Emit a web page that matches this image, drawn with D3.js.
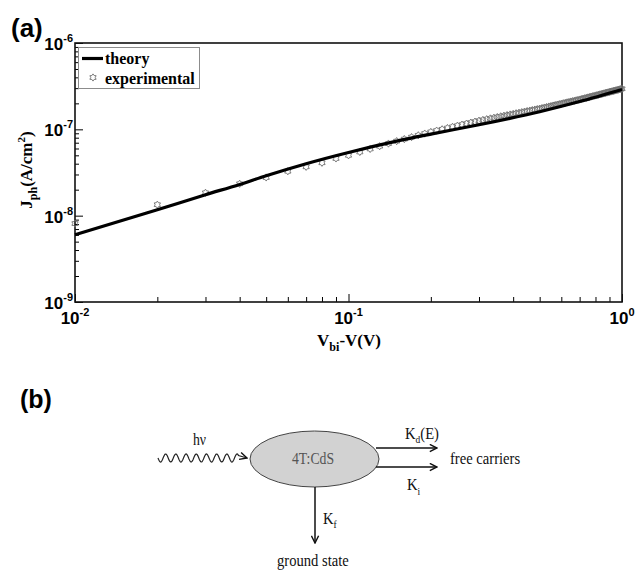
<!DOCTYPE html>
<html>
<head>
<meta charset="utf-8">
<script src="https://cdn.jsdelivr.net/npm/d3@7"></script>
<style>
  html, body { margin: 0; padding: 0; background: #fff; }
  svg { display: block; }
</style>
</head>
<body>
<svg id="fig" width="644" height="573"></svg>
<script>
// ---- photocurrent data ----
const expV = [
  0.01, 0.02, 0.03, 0.04, 0.05, 0.06, 0.07, 0.08, 0.09, 0.10,
  0.11, 0.12, 0.13, 0.14, 0.15, 0.16, 0.17, 0.18, 0.19, 0.20,
  0.21, 0.22, 0.23, 0.24, 0.25, 0.26, 0.27, 0.28, 0.29, 0.30,
  0.31, 0.32, 0.33, 0.34, 0.35, 0.36, 0.37, 0.38, 0.39, 0.40,
  0.41, 0.42, 0.43, 0.44, 0.45, 0.46, 0.47, 0.48, 0.49, 0.50,
  0.51, 0.52, 0.53, 0.54, 0.55, 0.56, 0.57, 0.58, 0.59, 0.60,
  0.61, 0.62, 0.63, 0.64, 0.65, 0.66, 0.67, 0.68, 0.69, 0.70,
  0.71, 0.72, 0.73, 0.74, 0.75, 0.76, 0.77, 0.78, 0.79, 0.80,
  0.81, 0.82, 0.83, 0.84, 0.85, 0.86, 0.87, 0.88, 0.89, 0.90,
  0.91, 0.92, 0.93, 0.94, 0.95, 0.96, 0.97, 0.98, 0.99, 1.00
];
const expJ = [
  8.1e-9, 1.34e-8, 1.84e-8, 2.34e-8, 2.77e-8, 3.27e-8, 3.68e-8, 4.10e-8, 4.60e-8, 5.00e-8,
  5.47e-8, 5.93e-8, 6.38e-8, 6.84e-8, 7.30e-8, 7.71e-8, 8.12e-8, 8.53e-8, 8.93e-8, 9.33e-8,
  9.67e-8, 1.001e-7, 1.035e-7, 1.068e-7, 1.101e-7, 1.133e-7, 1.165e-7, 1.197e-7, 1.228e-7, 1.259e-7,
  1.285e-7, 1.311e-7, 1.337e-7, 1.362e-7, 1.387e-7, 1.413e-7, 1.437e-7, 1.462e-7, 1.486e-7, 1.510e-7,
  1.534e-7, 1.557e-7, 1.581e-7, 1.604e-7, 1.627e-7, 1.649e-7, 1.672e-7, 1.694e-7, 1.716e-7, 1.738e-7,
  1.763e-7, 1.787e-7, 1.812e-7, 1.837e-7, 1.862e-7, 1.886e-7, 1.910e-7, 1.934e-7, 1.958e-7, 1.982e-7,
  2.006e-7, 2.029e-7, 2.052e-7, 2.076e-7, 2.099e-7, 2.122e-7, 2.146e-7, 2.168e-7, 2.191e-7, 2.213e-7,
  2.239e-7, 2.264e-7, 2.289e-7, 2.315e-7, 2.340e-7, 2.365e-7, 2.390e-7, 2.415e-7, 2.440e-7, 2.465e-7,
  2.490e-7, 2.515e-7, 2.539e-7, 2.564e-7, 2.588e-7, 2.613e-7, 2.638e-7, 2.662e-7, 2.686e-7, 2.710e-7,
  2.735e-7, 2.760e-7, 2.783e-7, 2.807e-7, 2.831e-7, 2.856e-7, 2.880e-7, 2.903e-7, 2.927e-7, 2.951e-7
];
const theoryV = [0.01, 0.02, 0.03, 0.04, 0.05, 0.07, 0.10, 0.15, 0.20, 0.30, 0.50, 0.70, 1.00];
const theoryJ = [6.0e-9, 1.17e-8, 1.75e-8, 2.30e-8, 2.90e-8, 4.0e-8, 5.4e-8, 7.3e-8, 8.8e-8, 1.13e-7, 1.60e-7, 2.10e-7, 2.90e-7];

const xMajor = [0.01, 0.1, 1];
const xMajorExp = ["-2", "-1", "0"];
const yMajor = [1e-9, 1e-8, 1e-7, 1e-6];
const yMajorExp = ["-9", "-8", "-7", "-6"];
const legendLabels = ["theory", "experimental"];

// ---- scheme labels ----
const schemeCore = "4T:CdS";
const schemeProducts = ["free carriers", "ground state"];

const svg = d3.select("#fig");
const sans = "'Liberation Sans', Arial, Helvetica, sans-serif";
const serif = "'Liberation Serif', 'Times New Roman', Times, serif";

const x = d3.scaleLog().domain([0.01, 1]).range([75, 622]);
const y = d3.scaleLog().domain([1e-9, 1e-6]).range([302, 43]);

// minor tick positions (2..9 within each decade)
function minors(lo, hi) {
  const out = [];
  for (let e = Math.log10(lo); e < Math.log10(hi); e++) {
    for (let k = 2; k <= 9; k++) out.push(k * Math.pow(10, e));
  }
  return out;
}

// panel labels
svg.append("text").attr("x", 11).attr("y", 37)
  .attr("font-family", sans).attr("font-weight", "bold").attr("font-size", 26)
  .text("(a)");
svg.append("text").attr("x", 20).attr("y", 408)
  .attr("font-family", sans).attr("font-weight", "bold").attr("font-size", 25)
  .text("(b)");

const plot = svg.append("g");

// inward ticks
const tickStyle = g => {
  g.select(".domain").remove();
  g.selectAll("line").attr("stroke", "#000").attr("stroke-width", 1);
  g.selectAll("text").remove();
};
plot.append("g").attr("transform", "translate(0,302)")
  .call(d3.axisBottom(x).tickValues(minors(0.01, 1)).tickSize(-5).tickFormat(""))
  .call(tickStyle);
plot.append("g").attr("transform", "translate(0,302)")
  .call(d3.axisBottom(x).tickValues(xMajor).tickSize(-8).tickFormat(""))
  .call(tickStyle);
plot.append("g").attr("transform", "translate(75,0)")
  .call(d3.axisLeft(y).tickValues(minors(1e-9, 1e-6)).tickSize(-4).tickFormat(""))
  .call(tickStyle);
plot.append("g").attr("transform", "translate(75,0)")
  .call(d3.axisLeft(y).tickValues(yMajor).tickSize(-8).tickFormat(""))
  .call(tickStyle);

// frame
plot.append("rect")
  .attr("x", x.range()[0]).attr("y", y.range()[1])
  .attr("width", x.range()[1] - x.range()[0])
  .attr("height", y.range()[0] - y.range()[1])
  .attr("fill", "none").attr("stroke", "#111").attr("stroke-width", 1.6);

// tick labels: 10 with superscript exponent
xMajor.forEach((v, i) => {
  const t = plot.append("text")
    .attr("x", x(v)).attr("y", 324)
    .attr("text-anchor", "middle")
    .attr("font-family", sans).attr("font-weight", "bold").attr("font-size", 17);
  t.append("tspan").text("10");
  t.append("tspan").attr("dy", -8).attr("font-size", 11).text(xMajorExp[i]);
});
yMajor.forEach((v, i) => {
  const t = plot.append("text")
    .attr("x", 73).attr("y", y(v) + 7)
    .attr("text-anchor", "end")
    .attr("font-family", sans).attr("font-weight", "bold").attr("font-size", 17);
  t.append("tspan").text("10");
  t.append("tspan").attr("dy", -8).attr("font-size", 11).text(yMajorExp[i]);
});

// axis titles
const xt = plot.append("text").attr("x", 349).attr("y", 346)
  .attr("text-anchor", "middle")
  .attr("font-family", serif).attr("font-weight", "bold").attr("font-size", 17);
xt.append("tspan").text("V");
xt.append("tspan").attr("dy", 5).attr("font-size", 12).text("bi");
xt.append("tspan").attr("dy", -5).text("-V(V)");

const yt = plot.append("text").attr("transform", "translate(32,170) rotate(-90)")
  .attr("text-anchor", "middle")
  .attr("font-family", serif).attr("font-weight", "bold").attr("font-size", 17);
yt.append("tspan").text("J");
yt.append("tspan").attr("dy", 5).attr("font-size", 12).text("ph");
yt.append("tspan").attr("dy", -5).text("(A/cm");
yt.append("tspan").attr("dy", -7).attr("font-size", 11).text("2");
yt.append("tspan").attr("dy", 7).text(")");

// six-pointed open star marker
const star6 = {
  draw(ctx, size) {
    const R = Math.sqrt(size) / 2, r = R * 0.62;
    for (let k = 0; k < 12; k++) {
      const a = -Math.PI / 2 + k * Math.PI / 6;
      const rad = k % 2 === 0 ? R : r;
      const px = rad * Math.cos(a), py = rad * Math.sin(a);
      if (k === 0) ctx.moveTo(px, py); else ctx.lineTo(px, py);
    }
    ctx.closePath();
  }
};
const marker = d3.symbol().type(star6).size(52);

// experimental points
plot.append("g").selectAll("path")
  .data(expV.map((v, i) => [v, expJ[i]]))
  .join("path")
  .attr("transform", d => `translate(${x(d[0])},${y(d[1])})`)
  .attr("d", marker)
  .attr("fill", "none").attr("stroke", "#6e6e6e").attr("stroke-width", 0.9);

// theory curve
const line = d3.line().x(d => x(d[0])).y(d => y(d[1])).curve(d3.curveMonotoneX);
plot.append("path")
  .datum(theoryV.map((v, i) => [v, theoryJ[i]]))
  .attr("d", line)
  .attr("fill", "none").attr("stroke", "#000").attr("stroke-width", 3.2)
  .attr("stroke-linejoin", "round");

// legend
const lg = plot.append("g");
lg.append("rect").attr("x", 78.5).attr("y", 47.5).attr("width", 121).attr("height", 41)
  .attr("fill", "#fff").attr("stroke", "#8c8c8c").attr("stroke-width", 1);
lg.append("line").attr("x1", 82).attr("x2", 103).attr("y1", 58.5).attr("y2", 58.5)
  .attr("stroke", "#000").attr("stroke-width", 3.2);
lg.append("path").attr("transform", "translate(93,77.5)").attr("d", marker)
  .attr("fill", "none").attr("stroke", "#6e6e6e").attr("stroke-width", 0.9);
legendLabels.forEach((s, i) => {
  lg.append("text").attr("x", 105).attr("y", 64 + i * 20)
    .attr("font-family", serif).attr("font-weight", "bold").attr("font-size", 16)
    .text(s);
});

// ---- kinetic scheme ----
const sc = svg.append("g");
const defs = svg.append("defs");
defs.append("marker").attr("id", "head").attr("viewBox", "0 0 10 10")
  .attr("refX", 9).attr("refY", 5).attr("markerWidth", 9).attr("markerHeight", 9)
  .attr("markerUnits", "userSpaceOnUse").attr("orient", "auto")
  .append("path").attr("d", "M1,1 L9,5 L1,9").attr("fill", "none")
  .attr("stroke", "#111").attr("stroke-width", 1.6);

// incoming photon (wavy line)
const wave = d3.range(0, 81, 0.5).map(t => [158 + t, 458 + 4 * Math.sin(t / 10.2 * 2 * Math.PI)]);
sc.append("path").attr("d", d3.line()(wave) + " L247,458")
  .attr("fill", "none").attr("stroke", "#222").attr("stroke-width", 1.2)
  .attr("marker-end", "url(#head)");

sc.append("ellipse").attr("cx", 314.5).attr("cy", 459).attr("rx", 64.5).attr("ry", 28)
  .attr("fill", "#d2d2d2").attr("stroke", "#444").attr("stroke-width", 1);

const arrowLine = (x1, y1, x2, y2) => sc.append("line")
  .attr("x1", x1).attr("y1", y1).attr("x2", x2).attr("y2", y2)
  .attr("stroke", "#111").attr("stroke-width", 1.5).attr("marker-end", "url(#head)");
arrowLine(376, 448, 437, 448);
arrowLine(376, 467, 437, 467);
arrowLine(315, 487, 315, 543);

// scheme text (narrow serif)
const stext = (tx, ty, size, fill) => sc.append("text")
  .attr("transform", `translate(${tx},${ty}) scale(0.86,1)`)
  .attr("font-family", serif).attr("font-size", size).attr("fill", fill || "#111");

stext(193, 445, 16).text("h\u03bd");
stext(292, 464, 16, "#555").text(schemeCore);
const kd = stext(405, 439, 17);
kd.append("tspan").text("K");
kd.append("tspan").attr("dy", 4).attr("font-size", 11).text("d");
kd.append("tspan").attr("dy", -4).text("(E)");
const ki = stext(407, 490, 17);
ki.append("tspan").text("K");
ki.append("tspan").attr("dy", 5).attr("font-size", 11).text("i");
const kf = stext(323, 524, 17);
kf.append("tspan").text("K");
kf.append("tspan").attr("dy", 4).attr("font-size", 11).text("f");
stext(450, 464, 17).text(schemeProducts[0]);
stext(277, 566, 17).text(schemeProducts[1]);
</script>
</body>
</html>
